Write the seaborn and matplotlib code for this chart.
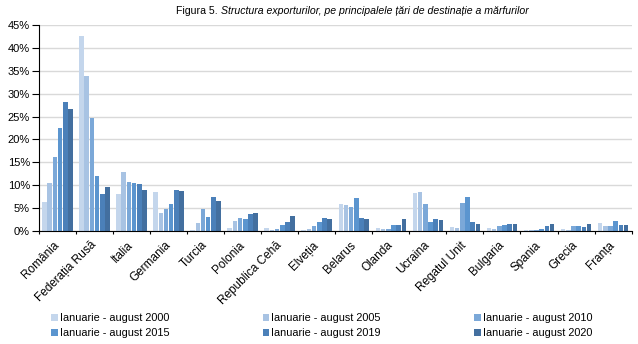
import numpy as np
import pandas as pd
import matplotlib
matplotlib.use("Agg")
import matplotlib.pyplot as plt
import seaborn as sns
from matplotlib.patches import Patch

countries = ["România", "Federația Rusă", "Italia", "Germania", "Turcia", "Polonia",
             "Republica Cehă", "Elveția", "Belarus", "Olanda", "Ucraina", "Regatul Unit",
             "Bulgaria", "Spania", "Grecia", "Franța"]
series = ["Ianuarie - august 2000", "Ianuarie - august 2005", "Ianuarie - august 2010",
          "Ianuarie - august 2015", "Ianuarie - august 2019", "Ianuarie - august 2020"]
v2000 = [6.3, 42.5, 8.1, 8.5, 0.15, 0.65, 0.65, 0.2, 5.9, 0.65, 8.3, 0.9, 0.65, 0.2, 0.45, 1.75]
v2005 = [10.5, 33.9, 12.9, 3.9, 1.75, 2.2, 0.2, 0.45, 5.7, 0.45, 8.5, 0.65, 0.45, 0.2, 0.2, 1.1]
v2010 = [16.2, 24.6, 10.7, 4.8, 4.8, 2.85, 0.45, 1.1, 5.25, 0.45, 5.9, 6.1, 1.1, 0.2, 1.1, 1.1]
v2015 = [22.6, 12.0, 10.5, 5.9, 3.1, 2.6, 1.3, 2.0, 7.2, 1.3, 2.0, 7.4, 1.3, 0.45, 1.1, 2.2]
v2019 = [28.2, 8.1, 10.3, 9.0, 7.4, 3.7, 2.0, 2.85, 2.85, 1.3, 2.6, 2.0, 1.5, 1.1, 0.9, 1.3]
v2020 = [26.7, 9.6, 9.0, 8.75, 6.6, 3.9, 3.3, 2.6, 2.6, 2.6, 2.4, 1.5, 1.5, 1.5, 1.5, 1.3]
colors = ["#c4d6ec", "#a8c3e3", "#7ba8d8", "#5b95cf", "#4b80b9", "#436f9f"]

vals = [v2000, v2005, v2010, v2015, v2019, v2020]
df = pd.DataFrame({
    "country": np.repeat([countries], len(series), axis=0).ravel(),
    "series": np.repeat(series, len(countries)),
    "value": np.concatenate(vals),
})

plt.rcParams["font.family"] = ["Liberation Sans", "DejaVu Sans"]
fig = plt.figure(figsize=(6.38, 3.44), dpi=100)
ax = fig.add_axes([0.061, 0.3285, 0.929, 0.5988])

sns.barplot(data=df, x="country", y="value", hue="series", order=countries,
            hue_order=series, palette=colors, width=0.84, gap=0.12,
            ax=ax, legend=False, saturation=1)

ax.set_ylim(0, 45)
ax.set_xlim(-0.5, len(countries) - 0.5)
ax.set_yticks(np.arange(0, 46, 5))
ax.set_yticklabels([f"{int(t)}%" for t in np.arange(0, 46, 5)], fontsize=8)
ax.yaxis.grid(True, color="#d9d9d9", linewidth=1)
ax.set_axisbelow(True)
ax.set_xlabel("")
ax.set_ylabel("")
for s in ["top", "right"]:
    ax.spines[s].set_visible(False)
ax.spines["left"].set_color("black")
ax.spines["bottom"].set_color("black")
ax.spines["left"].set_linewidth(0.8)
ax.spines["bottom"].set_linewidth(0.8)
ax.tick_params(axis="y", length=5, width=0.8, pad=1.5)

ax.set_xticks(np.arange(len(countries)))
ax.set_xticklabels(countries, rotation=45, ha="right", va="center",
                   rotation_mode="anchor", fontsize=8.5)
ax.tick_params(axis="x", which="major", length=0, pad=9)
ax.set_xticks(np.arange(len(countries) + 1) - 0.5, minor=True)
ax.tick_params(axis="x", which="minor", length=2.5, width=0.8)

t1 = fig.text(0.276, 0.967, "Figura 5. ", fontsize=7.6, va="center", ha="left")
ax.annotate("Structura exporturilor, pe principalele țări de destinație a mărfurilor",
            xy=(1, 0.5), xycoords=t1, va="center", ha="left", fontsize=7.6, style="italic")

handles = [Patch(facecolor=c, edgecolor="none") for c in colors]
order = [0, 3, 1, 4, 2, 5]
fig.legend([handles[i] for i in order], [series[i] for i in order], ncol=3,
           loc="lower left", bbox_to_anchor=(0.065, -0.012), frameon=False, fontsize=7.8,
           handlelength=0.6, handleheight=0.6, handletextpad=0.2, columnspacing=8.6,
           labelspacing=0.5)

fig.savefig("out.png", dpi=100)
